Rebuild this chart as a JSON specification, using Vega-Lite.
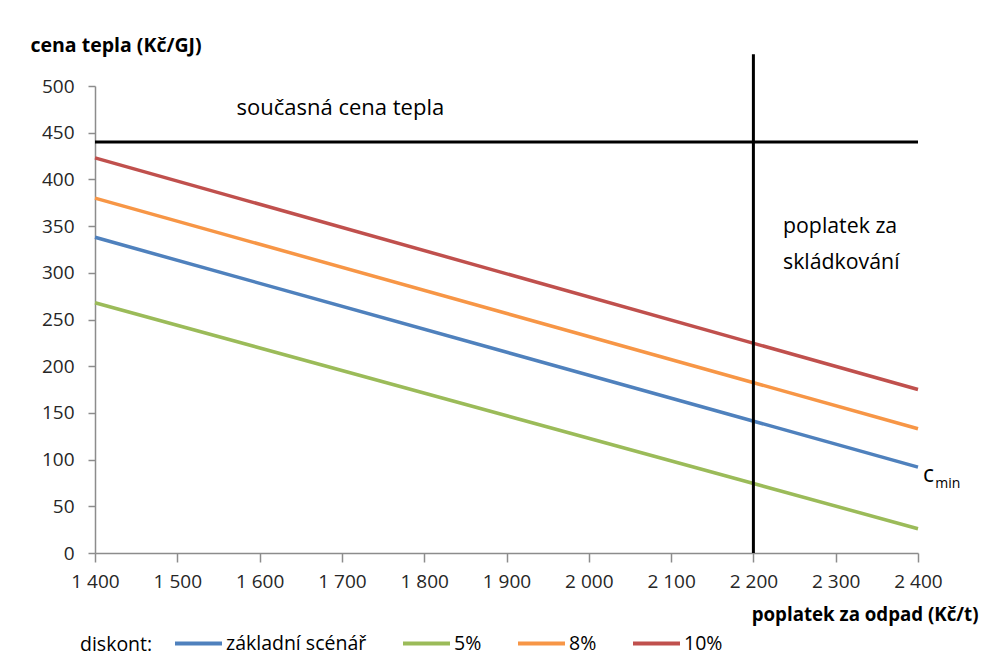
{
  "$schema": "https://vega.github.io/schema/vega-lite/v6.json",
  "width": 823,
  "height": 467,
  "autosize": {"type": "none"},
  "padding": {"left": 95, "top": 86, "right": 66, "bottom": 106},
  "background": "white",
  "config": {
    "view": {"stroke": null},
    "font": "Open Sans",
    "axis": {
      "grid": false,
      "domainColor": "#8c8c8c",
      "domainWidth": 1.5,
      "tickColor": "#8c8c8c",
      "tickWidth": 1.5,
      "labelColor": "#262626",
      "labelFontSize": 19,
      "labelFont": "Open Sans",
      "labelFlush": false,
      "labelOverlap": false,
      "titleColor": "#000000",
      "titleFont": "Open Sans",
      "titleFontWeight": "bold"
    },
    "axisX": {"tickSize": 9, "labelPadding": 10, "titleFontSize": 18.7},
    "axisY": {"tickSize": 7, "labelPadding": 14, "titleFontSize": 19.5}
  },
  "layer": [
    {
      "data": {
        "values": [
          {"scenar": "základní scénář", "x": 1400, "y": 338},
          {"scenar": "základní scénář", "x": 2400, "y": 92},
          {"scenar": "5%", "x": 1400, "y": 268},
          {"scenar": "5%", "x": 2400, "y": 26},
          {"scenar": "8%", "x": 1400, "y": 380},
          {"scenar": "8%", "x": 2400, "y": 133},
          {"scenar": "10%", "x": 1400, "y": 423},
          {"scenar": "10%", "x": 2400, "y": 175}
        ]
      },
      "mark": {"type": "line", "strokeWidth": 3.5},
      "encoding": {
        "x": {
          "field": "x",
          "type": "quantitative",
          "scale": {"domain": [1400, 2400], "nice": false, "zero": false},
          "axis": {
            "title": "poplatek za odpad (Kč/t)",
            "values": [1400, 1500, 1600, 1700, 1800, 1900, 2000, 2100, 2200, 2300, 2400],
            "labelExpr": "replace(format(datum.value, ','), ',', ' ')",
            "titleAlign": "right",
            "titleAnchor": "end",
            "titleX": 883,
            "titleY": 61,
            "titleBaseline": "middle"
          }
        },
        "y": {
          "field": "y",
          "type": "quantitative",
          "scale": {"domain": [0, 500], "nice": false},
          "axis": {
            "title": "cena tepla (Kč/GJ)",
            "values": [0, 50, 100, 150, 200, 250, 300, 350, 400, 450, 500],
            "titleAngle": 0,
            "titleAlign": "left",
            "titleBaseline": "middle",
            "titleX": -65,
            "titleY": -41
          }
        },
        "color": {
          "field": "scenar",
          "type": "nominal",
          "scale": {
            "domain": ["základní scénář", "5%", "8%", "10%"],
            "range": ["#4F81BD", "#9BBB59", "#F79646", "#C0504D"]
          },
          "legend": {
            "title": "diskont:",
            "orient": "none",
            "direction": "horizontal",
            "legendX": -15,
            "legendY": 532,
            "titleOrient": "left",
            "titleAnchor": "middle",
            "titleBaseline": "top",
            "titleFontWeight": "normal",
            "titleFontSize": 19.5,
            "titleColor": "#000000",
            "titleFont": "Open Sans",
            "titlePadding": 20,
            "labelFontSize": 19.5,
            "labelFont": "Open Sans",
            "labelColor": "#000000",
            "labelOffset": 2,
            "symbolType": "stroke",
            "symbolSize": 2209,
            "symbolStrokeWidth": 4,
            "columnPadding": 28
          }
        }
      }
    },
    {
      "data": {
        "values": [
          {"x": 1400, "x2": 2400, "y": 440, "y2": 440},
          {"x": 2200, "x2": 2200, "y": 0, "y2": 534}
        ]
      },
      "mark": {"type": "rule", "color": "#000000", "strokeWidth": 3},
      "encoding": {
        "x": {"field": "x", "type": "quantitative"},
        "x2": {"field": "x2"},
        "y": {"field": "y", "type": "quantitative"},
        "y2": {"field": "y2"}
      }
    },
    {
      "data": {
        "values": [
          {"x": 1572, "y": 476, "label": "současná cena tepla"}
        ]
      },
      "mark": {"type": "text", "align": "left", "baseline": "middle", "fontSize": 22, "font": "Open Sans", "color": "#000000"},
      "encoding": {
        "x": {"field": "x", "type": "quantitative"},
        "y": {"field": "y", "type": "quantitative"},
        "text": {"field": "label"}
      }
    },
    {
      "data": {
        "values": [
          {"x": 2236, "y": 349, "label": "poplatek za"},
          {"x": 2236, "y": 311, "label": "skládkování"}
        ]
      },
      "mark": {"type": "text", "align": "left", "baseline": "middle", "fontSize": 21.3, "font": "Open Sans", "color": "#000000"},
      "encoding": {
        "x": {"field": "x", "type": "quantitative"},
        "y": {"field": "y", "type": "quantitative"},
        "text": {"field": "label"}
      }
    },
    {
      "data": {
        "values": [
          {"x": 2406, "y": 83, "label": "c"}
        ]
      },
      "mark": {"type": "text", "align": "left", "baseline": "middle", "fontSize": 23, "font": "Open Sans", "color": "#000000"},
      "encoding": {
        "x": {"field": "x", "type": "quantitative"},
        "y": {"field": "y", "type": "quantitative"},
        "text": {"field": "label"}
      }
    },
    {
      "data": {
        "values": [
          {"x": 2421, "y": 74, "label": "min"}
        ]
      },
      "mark": {"type": "text", "align": "left", "baseline": "middle", "fontSize": 14, "font": "Open Sans", "color": "#000000"},
      "encoding": {
        "x": {"field": "x", "type": "quantitative"},
        "y": {"field": "y", "type": "quantitative"},
        "text": {"field": "label"}
      }
    }
  ]
}
